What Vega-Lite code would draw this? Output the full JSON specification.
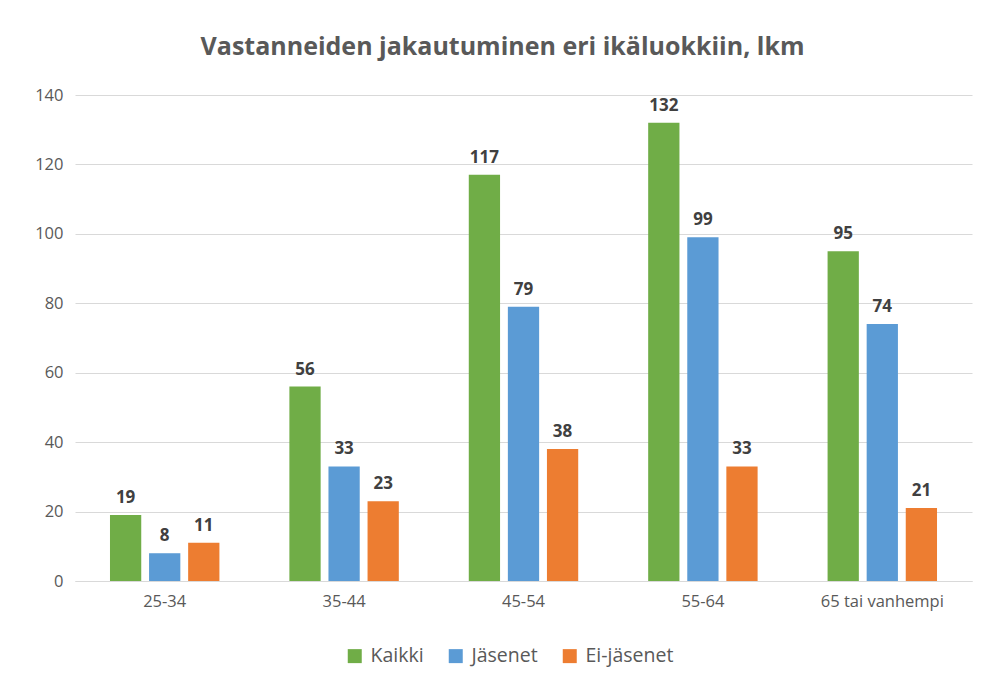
{
  "$schema": "https://vega.github.io/schema/vega-lite/v6.json",
  "width": 897,
  "height": 486,
  "autosize": {"type": "none"},
  "padding": {"left": 75, "top": 95, "right": 11, "bottom": 98},
  "background": "white",
  "title": {
    "text": "Vastanneiden jakautuminen eri ikäluokkiin, lkm",
    "font": "Open Sans",
    "fontSize": 25,
    "fontWeight": "bold",
    "color": "#595959",
    "anchor": "middle",
    "dx": -21,
    "offset": 27
  },
  "data": {
    "values": [
      {"ika": "25-34", "ryhma": "Kaikki", "lkm": 19},
      {"ika": "25-34", "ryhma": "Jäsenet", "lkm": 8},
      {"ika": "25-34", "ryhma": "Ei-jäsenet", "lkm": 11},
      {"ika": "35-44", "ryhma": "Kaikki", "lkm": 56},
      {"ika": "35-44", "ryhma": "Jäsenet", "lkm": 33},
      {"ika": "35-44", "ryhma": "Ei-jäsenet", "lkm": 23},
      {"ika": "45-54", "ryhma": "Kaikki", "lkm": 117},
      {"ika": "45-54", "ryhma": "Jäsenet", "lkm": 79},
      {"ika": "45-54", "ryhma": "Ei-jäsenet", "lkm": 38},
      {"ika": "55-64", "ryhma": "Kaikki", "lkm": 132},
      {"ika": "55-64", "ryhma": "Jäsenet", "lkm": 99},
      {"ika": "55-64", "ryhma": "Ei-jäsenet", "lkm": 33},
      {"ika": "65 tai vanhempi", "ryhma": "Kaikki", "lkm": 95},
      {"ika": "65 tai vanhempi", "ryhma": "Jäsenet", "lkm": 74},
      {"ika": "65 tai vanhempi", "ryhma": "Ei-jäsenet", "lkm": 21}
    ]
  },
  "encoding": {
    "x": {
      "field": "ika",
      "type": "nominal",
      "sort": null,
      "title": null,
      "scale": {"paddingInner": 0.39, "paddingOuter": 0.195},
      "axis": {
        "labelAngle": 0,
        "labelFont": "Open Sans",
        "labelFontSize": 16.5,
        "labelColor": "#595959",
        "labelPadding": 12,
        "ticks": false,
        "domainColor": "#d9d9d9",
        "domainWidth": 1
      }
    },
    "xOffset": {
      "field": "ryhma",
      "type": "nominal",
      "sort": ["Kaikki", "Jäsenet", "Ei-jäsenet"],
      "scale": {"paddingInner": 0.2, "paddingOuter": 0}
    },
    "y": {
      "field": "lkm",
      "type": "quantitative",
      "title": null,
      "scale": {"domain": [0, 140]},
      "axis": {
        "values": [0, 20, 40, 60, 80, 100, 120, 140],
        "labelFont": "Open Sans",
        "labelFontSize": 16.5,
        "labelColor": "#595959",
        "labelPadding": 12,
        "ticks": false,
        "domain": false,
        "gridColor": "#d9d9d9",
        "gridWidth": 1
      }
    }
  },
  "layer": [
    {
      "mark": {"type": "bar"},
      "encoding": {
        "color": {
          "field": "ryhma",
          "type": "nominal",
          "sort": ["Kaikki", "Jäsenet", "Ei-jäsenet"],
          "scale": {
            "domain": ["Kaikki", "Jäsenet", "Ei-jäsenet"],
            "range": ["#70AD47", "#5B9BD5", "#ED7D31"]
          },
          "legend": {
            "title": null,
            "orient": "none",
            "legendX": 270,
            "legendY": 551,
            "padding": 0,
            "direction": "horizontal",
            "symbolType": "square",
            "symbolSize": 196,
            "symbolStrokeWidth": 0,
            "symbolOffset": 0,
            "labelFont": "Open Sans",
            "labelFontSize": 19.5,
            "labelColor": "#595959",
            "labelOffset": 6,
            "columnPadding": 22
          }
        }
      }
    },
    {
      "mark": {
        "type": "text",
        "baseline": "bottom",
        "dy": -8,
        "font": "Open Sans",
        "fontSize": 17,
        "fontWeight": "bold",
        "color": "#404040"
      },
      "encoding": {
        "text": {"field": "lkm", "type": "quantitative"}
      }
    }
  ],
  "config": {
    "view": {"stroke": null}
  }
}
